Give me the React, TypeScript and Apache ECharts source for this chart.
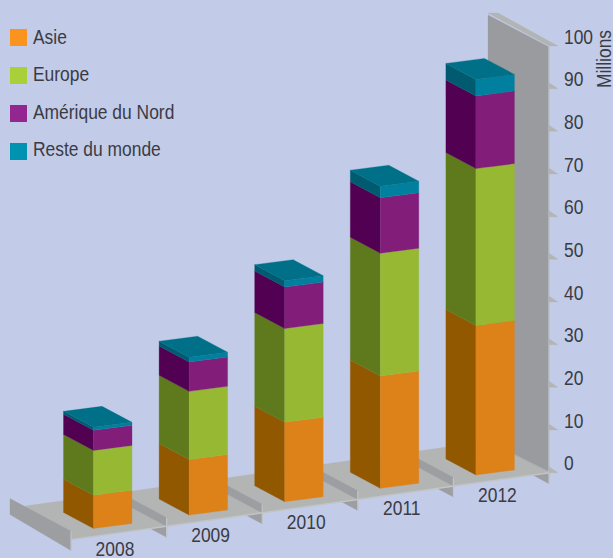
import React, { useEffect, useRef } from "react";
import * as echarts from "echarts";

const years = ["2008", "2009", "2010", "2011", "2012"];
const asie = [7.8, 13, 18.6, 26.3, 35];
const europe = [10.5, 16, 22, 28.8, 36.8];
const ameriqueNord = [4.7, 6.9, 9.7, 13, 17];
const resteMonde = [0.7, 1.1, 1.5, 2.7, 3.9];
const tickValues = [0, 10, 20, 30, 40, 50, 60, 70, 80, 90, 100];

const FONT = '"Liberation Sans", Arial, sans-serif';
const TEXT = "#3b3b44";
const SLOPE = 0.14;
const NARROW = 0.83;

const regions = [
  { name: "Asie", values: asie, legend: "#fb941f", front: "#dd8219", side: "#925800" },
  { name: "Europe", values: europe, legend: "#a9d039", front: "#96b833", side: "#5f7a1c" },
  { name: "Amérique du Nord", values: ameriqueNord, legend: "#93268f", front: "#821e7a", side: "#520052" },
  { name: "Reste du monde", values: resteMonde, legend: "#0093b1", front: "#00809e", side: "#005a70" },
];

const poly = (points: number[][], fill: string, stroke?: string) => ({
  type: "polygon",
  shape: { points },
  style: { fill, stroke: stroke || fill, lineWidth: stroke ? 0.5 : 0.3 },
});

const narrowText = (text: string, x: number, y: number, align: string) => ({
  type: "text",
  x,
  y,
  scaleX: NARROW,
  style: {
    text,
    x: 0,
    y: 0,
    font: `21px ${FONT}`,
    lineHeight: 18,
    fill: TEXT,
    align,
    verticalAlign: "middle",
  },
});

function App() {
  const ref = useRef<HTMLDivElement>(null);
  useEffect(() => {
    document.body.style.margin = "0";
    const chart = echarts.init(ref.current!, null, { renderer: "svg" });
    let base = years.map(() => 0);

    const barSeries = regions.map((r, s) => {
      const data = years.map((y, i) => [y, base[i], base[i] + r.values[i]]);
      base = base.map((b, i) => b + r.values[i]);
      const isTop = s === regions.length - 1;
      return {
        type: "custom",
        name: r.name,
        z: 5,
        clip: false,
        itemStyle: { color: r.legend },
        encode: { x: 0, y: [1, 2] },
        data,
        renderItem: (params: any, api: any) => {
          const g = params.coordSys;
          const right = g.x + g.width;
          const i = api.value(0);
          const c0 = api.coord([i, api.value(1)]);
          const c1 = api.coord([i, api.value(2)]);
          const cx = c0[0] - 25.3;
          const skew = SLOPE * (right - cx) - 8;
          const yb = c0[1] + skew;
          const yt = c1[1] + skew;
          const children: any[] = [
            poly([[cx, yb], [cx, yt], [cx - 30, yt - 16], [cx - 30, yb - 16]], r.side),
            poly([[cx, yb], [cx, yt], [cx + 38.5, yt - 5], [cx + 38.5, yb - 5]], r.front),
          ];
          if (isTop) {
            children.push(
              poly([[cx, yt], [cx + 38.5, yt - 5], [cx + 8.5, yt - 21], [cx - 30, yt - 16]], "#006f88")
            );
          }
          return { type: "group", children };
        },
      };
    });

    const decor = {
      type: "custom",
      z: 1,
      clip: false,
      silent: true,
      data: [[0]],
      renderItem: (params: any) => {
        const g = params.coordSys;
        const right = g.x + g.width;
        const left = g.x;
        const y0 = g.y + g.height;
        const band = g.width / years.length;
        const edge = (x: number) => y0 + SLOPE * (right - x);
        const dark = "#9c9ea1";
        const light = "#c2c5c6";
        const floor = "#b3b5b5";
        const lower: any[] = [];
        const upper: any[] = [];
        const lines: any[] = [];
        years.forEach((_, i) => {
          const x = left + band * (i + 1);
          const e = edge(x);
          lower.push(poly([[x, e], [x, e + 11], [x - 61, e + 11 - 32.6], [x - 61, e - 32.6]], dark));
          if (i < years.length - 1) {
            upper.push(poly([[x, e - 8.6], [x, e], [x - 61, e - 32.6], [x - 61, e - 41.2]], dark));
          }
          lines.push({
            type: "line",
            shape: { x1: x, y1: e - (i === years.length - 1 ? 0 : 8.6), x2: x, y2: e + 11 },
            style: { stroke: light, lineWidth: 1.2 },
          });
        });
        const wallBackX = right - 61;
        const wallTop = g.y;
        return {
          type: "group",
          children: [
            ...lower,
            poly([[25, edge(25) - 40], [wallBackX, edge(wallBackX) - 40], [right, y0], [left, edge(left)]], floor),
            ...upper,
            poly([[wallBackX, wallTop - 31], [right, wallTop + 1], [right, y0 - 1], [wallBackX, y0 - 32]], "#999b9e"),
            poly([[wallBackX, wallTop - 33], [wallBackX + 10, wallTop - 33], [right + 9, wallTop], [right, wallTop]], floor),
            poly([[left - 61, edge(left) - 41], [left, edge(left) - 8.4], [left, edge(left) + 11], [left - 61, edge(left) - 25]], dark),
            {
              type: "line",
              shape: { x1: left, y1: edge(left) - 8.4, x2: left, y2: edge(left) + 11 },
              style: { stroke: light, lineWidth: 1.2 },
            },
            {
              type: "line",
              shape: { x1: left, y1: edge(left), x2: right + 8, y2: y0 - 1 },
              style: { stroke: light, lineWidth: 1.4 },
            },
            {
              type: "line",
              shape: { x1: right, y1: wallTop, x2: right, y2: y0 },
              style: { stroke: light, lineWidth: 1.2 },
            },
            ...lines,
          ],
        };
      },
    };

    const ticks = {
      type: "custom",
      z: 2,
      clip: false,
      silent: true,
      encode: { y: 1 },
      data: tickValues.map((v) => [years[years.length - 1], v]),
      renderItem: (params: any, api: any) => {
        const g = params.coordSys;
        const right = g.x + g.width;
        const v = api.value(1);
        const y = api.coord([0, v])[1];
        const children: any[] = [narrowText(String(v), right + 15, y - 9.5, "left")];
        if (v < 100) children.unshift(poly([[right, y - 6], [right, y], [right + 9, y]], "#b3b5b5"));
        return { type: "group", children };
      },
    };

    const yearLabels = {
      type: "custom",
      z: 6,
      clip: false,
      silent: true,
      encode: { x: 0 },
      data: years.map((y) => [y]),
      renderItem: (params: any, api: any) => {
        const g = params.coordSys;
        const i = api.value(0);
        const c = api.coord([i, 0]);
        const x = c[0] - 3.8;
        return narrowText(years[i], x, c[1] + SLOPE * (g.x + g.width - x) + 15, "center");
      },
    };

    const legendItems = regions.flatMap((r, i) => [
      { type: "rect", shape: { x: 10, y: 29 + 38 * i, width: 17, height: 17 }, style: { fill: r.legend } },
      narrowText(r.name, 33, 36.5 + 37.5 * i, "left"),
    ]);

    chart.setOption({
      animation: false,
      backgroundColor: "#c2cce8",
      grid: { left: 71, right: 64, top: 46, bottom: 85.3 },
      xAxis: { type: "category", data: years, show: false },
      yAxis: {
        type: "value",
        position: "right",
        min: 0,
        max: 100,
        interval: 10,
        splitLine: { show: false },
        axisLine: { show: false },
        axisTick: { show: false },
        axisLabel: { show: false },
      },
      graphic: [
        ...legendItems,
        {
          type: "text",
          x: 603.5,
          y: 59,
          rotation: Math.PI / 2,
          scaleX: NARROW,
          style: {
            text: "Millions",
            x: 0,
            y: 0,
            font: `21px ${FONT}`,
            lineHeight: 18,
            fill: TEXT,
            align: "center",
            verticalAlign: "middle",
          },
        },
      ],
      series: [decor, ticks, ...barSeries, yearLabels],
    });
    return () => chart.dispose();
  }, []);
  return <div ref={ref} style={{ width: 613, height: 558 }} />;
}

export default App;
